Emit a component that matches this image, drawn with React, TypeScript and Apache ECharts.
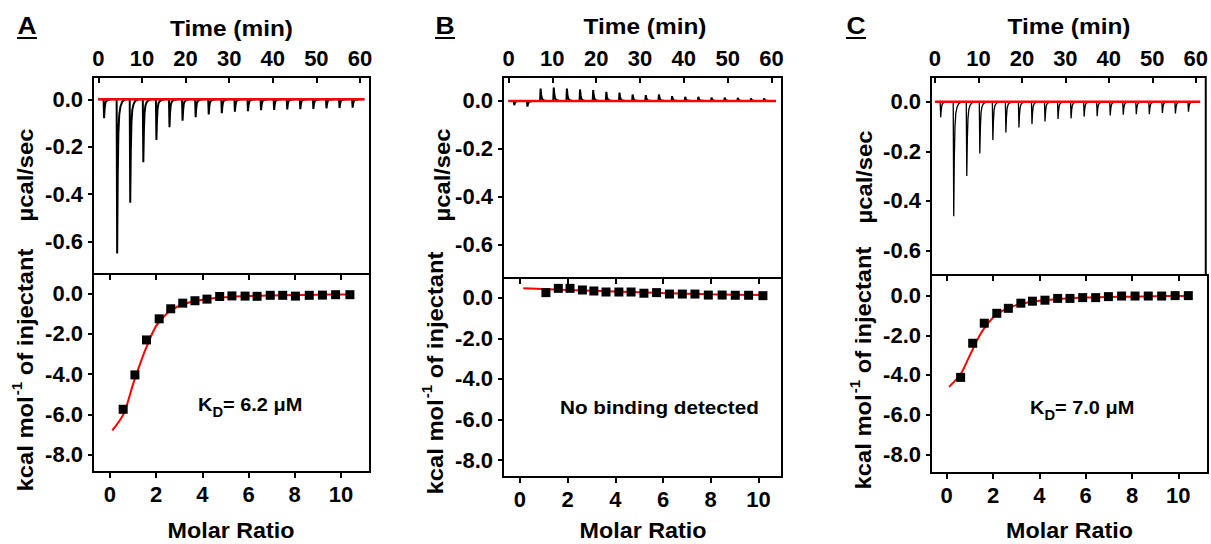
import React, { useEffect, useRef } from "react";
import * as echarts from "echarts";

// ---------- DATA ----------
const injectionTimes = [1.2, 4.2, 7.2, 10.2, 13.2, 16.2, 19.2, 22.2, 25.2, 28.2, 31.2, 34.2, 37.2, 40.2, 43.2, 46.2, 49.2, 52.2, 55.2, 58.2];
const peaksA = [-0.08, -0.65, -0.436, -0.266, -0.172, -0.118, -0.09, -0.076, -0.064, -0.059, -0.052, -0.05, -0.046, -0.045, -0.043, -0.042, -0.041, -0.038, -0.037, -0.035];
const peaksB = [-0.018, -0.024, 0.052, 0.056, 0.052, 0.048, 0.045, 0.038, 0.035, 0.027, 0.024, 0.027, 0.02, 0.017, 0.017, 0.014, 0.014, 0.013, 0.01, 0.01];
const peaksC = [-0.063, -0.463, -0.3, -0.209, -0.155, -0.124, -0.104, -0.09, -0.08, -0.07, -0.067, -0.06, -0.058, -0.055, -0.052, -0.05, -0.05, -0.045, -0.047, -0.04];
// normalized injection-peak shape (time offset in min, fraction of peak)
const pulseOffsets = [0, 0.12, 0.25, 0.4, 0.6, 0.9, 1.3, 2.0];
const pulseFractions = [0, 1, 0.5, 0.22, 0.1, 0.045, 0.015, 0];
const baselineRange = [0, 61];

const molarA = [0.57, 1.08, 1.58, 2.13, 2.63, 3.15, 3.68, 4.2, 4.75, 5.28, 5.85, 6.37, 6.94, 7.48, 8.03, 8.63, 9.2, 9.77, 10.39];
const heatA = [-5.75, -4.04, -2.3, -1.25, -0.75, -0.47, -0.35, -0.27, -0.14, -0.11, -0.12, -0.13, -0.08, -0.08, -0.12, -0.08, -0.07, -0.05, -0.05];
const fitXA = [0.1, 0.6, 1.0, 1.3, 1.6, 2.0, 2.5, 3.0, 3.5, 4.0, 5.0, 6.0, 7.0, 8.0, 9.0, 10.4];
const fitYA = [-6.8, -5.95, -4.5, -3.5, -2.6, -1.6, -0.95, -0.6, -0.42, -0.3, -0.18, -0.12, -0.09, -0.07, -0.05, -0.04];

const molarB = [1.09, 1.61, 2.1, 2.62, 3.1, 3.61, 4.15, 4.66, 5.2, 5.73, 6.27, 6.81, 7.34, 7.9, 8.48, 9.03, 9.59, 10.19];
const heatB = [0.25, 0.46, 0.46, 0.38, 0.33, 0.28, 0.28, 0.28, 0.22, 0.25, 0.18, 0.18, 0.18, 0.13, 0.13, 0.12, 0.12, 0.1];
const fitXB = [0.14, 2, 4, 6, 8, 10.2];
const fitYB = [0.46, 0.38, 0.3, 0.23, 0.17, 0.13];

const molarC = [0.6, 1.12, 1.62, 2.16, 2.66, 3.2, 3.7, 4.24, 4.79, 5.32, 5.87, 6.43, 6.98, 7.55, 8.13, 8.7, 9.28, 9.86, 10.43];
const heatC = [-4.12, -2.4, -1.39, -0.89, -0.64, -0.38, -0.28, -0.23, -0.14, -0.14, -0.1, -0.1, -0.05, -0.02, -0.02, -0.02, -0.02, 0, 0];
const fitXC = [0.1, 0.6, 1.0, 1.5, 2.0, 2.5, 3.0, 3.5, 4.0, 5.0, 6.0, 7.0, 8.0, 9.0, 10.4];
const fitYC = [-4.6, -3.95, -3.0, -1.85, -1.1, -0.7, -0.48, -0.35, -0.26, -0.16, -0.1, -0.07, -0.05, -0.03, -0.02];

const timeTicks = [0, 10, 20, 30, 40, 50, 60];
const powerTicks = [0, -0.2, -0.4, -0.6];
const ratioTicks = [0, 2, 4, 6, 8, 10];
const heatTicks = [0, -2, -4, -6, -8];

const panelLetters = ["A", "B", "C"];
const annotations = ["KD6.2", "none", "KD7.0"];

// ---------- LAYOUT ----------
const FONT = "'Liberation Sans', Arial, sans-serif";
const SX = 1.08;
const panels = [
  {
    top: { left: 93, top: 77, width: 277, height: 197 },
    bot: { left: 93, top: 274, width: 277, height: 198 },
    tx: [-1.22, 62.3], ty: [-0.737, 0.094], bx: [-0.736, 11.26], by: [-8.87, 0.98],
    peaks: peaksA, lw: 2, molar: molarA, heat: heatA, fx: fitXA, fy: fitYA,
    letter: [27, 26], time: [231.5, 28], molarT: [231, 530], ucal: [25, 175], kcal: [23, 370], ann: [198, 407],
  },
  {
    top: { left: 503, top: 77, width: 279, height: 201 },
    bot: { left: 503, top: 278, width: 279, height: 199 },
    tx: [-1.26, 62.4], ty: [-0.74, 0.1], bx: [-0.71, 10.99], by: [-8.83, 0.97],
    peaks: peaksB, lw: 2, molar: molarB, heat: heatB, fx: fitXB, fy: fitYB,
    letter: [445, 26], time: [645, 26], molarT: [643, 530], ucal: [442, 175], kcal: [433, 373], ann: [560, 407],
  },
  {
    top: { left: 931, top: 77, width: 277, height: 198 },
    bot: { left: 931, top: 275, width: 277, height: 198 },
    tx: [-0.91, 62.3], ty: [-0.7, 0.1], bx: [-0.68, 11.28], by: [-8.94, 1.04],
    peaks: peaksC, lw: 1.3, molar: molarC, heat: heatC, fx: fitXC, fy: fitYC,
    letter: [856, 26], time: [1069, 26], molarT: [1069.5, 530], ucal: [864, 177], kcal: [861, 368], ann: [1030, 410],
  },
];

function thermogram(peaks: number[]) {
  const pts: number[][] = [[baselineRange[0], 0]];
  injectionTimes.forEach((t, i) => {
    pulseOffsets.forEach((dt, k) => pts.push([t + dt, peaks[i] * pulseFractions[k]]));
  });
  pts.push([baselineRange[1], 0]);
  return pts;
}

const labelStyle = { color: "#000", fontSize: 22, fontWeight: "bold" as const, fontFamily: FONT };
const tickStyle = { color: "#000", width: 2 };
const noLine = { show: false, onZero: false };
const fmt1 = (v: number) => (Math.abs(v) < 1e-9 ? "0.0" : v.toFixed(1));
const fmt0 = (v: number) => String(Math.round(v));

function buildOption() {
  const grid: any[] = [];
  const xAxis: any[] = [];
  const yAxis: any[] = [];
  const series: any[] = [];
  const graphic: any[] = [];

  panels.forEach((p, i) => {
    const gTop = grid.length;
    grid.push({ ...p.top, show: true, borderColor: "#000", borderWidth: 2, backgroundColor: "rgba(0,0,0,0)" });
    const gBot = grid.length;
    grid.push({ ...p.bot, show: true, borderColor: "#000", borderWidth: 2, backgroundColor: "rgba(0,0,0,0)" });

    const xTop = xAxis.length;
    xAxis.push({
      type: "value", gridIndex: gTop, position: "top", min: p.tx[0], max: p.tx[1],
      axisLine: noLine, splitLine: { show: false },
      axisTick: { show: true, inside: true, length: 6, lineStyle: tickStyle, customValues: timeTicks },
      axisLabel: { ...labelStyle, margin: 8, customValues: timeTicks, formatter: fmt0 },
    });
    const xBot = xAxis.length;
    xAxis.push({
      type: "value", gridIndex: gBot, position: "bottom", min: p.bx[0], max: p.bx[1],
      axisLine: noLine, splitLine: { show: false },
      axisTick: { show: true, inside: false, length: 6, lineStyle: tickStyle, customValues: ratioTicks },
      axisLabel: { ...labelStyle, margin: 11, customValues: ratioTicks, formatter: fmt0 },
    });
    xAxis.push({
      type: "value", gridIndex: gBot, position: "top", min: p.bx[0], max: p.bx[1],
      axisLine: noLine, splitLine: { show: false },
      axisTick: { show: true, inside: true, length: 6, lineStyle: tickStyle, customValues: ratioTicks },
      axisLabel: { show: false },
    });
    const yTop = yAxis.length;
    yAxis.push({
      type: "value", gridIndex: gTop, position: "left", min: p.ty[0], max: p.ty[1],
      axisLine: noLine, splitLine: { show: false },
      axisTick: { show: true, inside: false, length: 5, lineStyle: tickStyle, customValues: powerTicks },
      axisLabel: { ...labelStyle, margin: 10, customValues: powerTicks, formatter: fmt1 },
    });
    const yBot = yAxis.length;
    yAxis.push({
      type: "value", gridIndex: gBot, position: "left", min: p.by[0], max: p.by[1],
      axisLine: noLine, splitLine: { show: false },
      axisTick: { show: true, inside: false, length: 5, lineStyle: tickStyle, customValues: heatTicks },
      axisLabel: { ...labelStyle, margin: 10, customValues: heatTicks, formatter: fmt1 },
    });

    series.push({
      type: "line", xAxisIndex: xTop, yAxisIndex: yTop, data: thermogram(p.peaks),
      showSymbol: false, symbol: "none", lineStyle: { color: "#000", width: p.lw }, z: 2,
    });
    series.push({
      type: "line", xAxisIndex: xTop, yAxisIndex: yTop, data: baselineRange.map((t) => [t, 0]),
      showSymbol: false, symbol: "none", lineStyle: { color: "#ff0000", width: 2.5 }, z: 3,
    });
    series.push({
      type: "line", xAxisIndex: xBot, yAxisIndex: yBot, data: p.fx.map((x, k) => [x, p.fy[k]]),
      showSymbol: false, symbol: "none", smooth: 0.3, lineStyle: { color: "#ff0000", width: 2 }, z: 3,
    });
    series.push({
      type: "scatter", xAxisIndex: xBot, yAxisIndex: yBot, data: p.molar.map((x, k) => [x, p.heat[k]]),
      symbol: "rect", symbolSize: 9, itemStyle: { color: "#000", opacity: 1 }, z: 4,
    });

    // texts
    graphic.push({
      type: "text", x: p.letter[0], y: p.letter[1], scaleX: 1.15,
      style: { text: panelLetters[i], fill: "#000", fontSize: 23, fontWeight: "bold", fontFamily: FONT, align: "center", verticalAlign: "middle" },
    });
    graphic.push({
      type: "line", shape: { x1: p.letter[0] - 10, y1: p.letter[1] + 12, x2: p.letter[0] + 10, y2: p.letter[1] + 12 },
      style: { stroke: "#000", lineWidth: 2 },
    });
    graphic.push({
      type: "text", x: p.time[0], y: p.time[1], scaleX: SX + 0.03,
      style: { text: "Time (min)", fill: "#000", fontSize: 22, fontWeight: "bold", fontFamily: FONT, align: "center", verticalAlign: "middle" },
    });
    graphic.push({
      type: "text", x: p.molarT[0], y: p.molarT[1], scaleX: SX - 0.02,
      style: { text: "Molar Ratio", fill: "#000", fontSize: 22, fontWeight: "bold", fontFamily: FONT, align: "center", verticalAlign: "middle" },
    });
    graphic.push({
      type: "text", x: p.ucal[0], y: p.ucal[1], rotation: Math.PI / 2, scaleX: SX,
      style: { text: "µcal/sec", fill: "#000", fontSize: 22, fontWeight: "bold", fontFamily: FONT, align: "center", verticalAlign: "middle" },
    });
    graphic.push({
      type: "text", x: p.kcal[0], y: p.kcal[1], rotation: Math.PI / 2, scaleX: SX,
      style: {
        text: "{n|kcal mol}{s|-1}{n| of injectant}", align: "center", verticalAlign: "middle",
        rich: {
          n: { fill: "#000", fontSize: 22, fontWeight: "bold", fontFamily: FONT, lineHeight: 26, verticalAlign: "bottom" },
          s: { fill: "#000", fontSize: 14, fontWeight: "bold", fontFamily: FONT, lineHeight: 26, verticalAlign: "top", padding: [0, 0, 0, 1] },
        },
      },
    });
    if (annotations[i] === "none") {
      graphic.push({
        type: "text", x: p.ann[0], y: p.ann[1], scaleX: 1.09,
        style: { text: "No binding detected", fill: "#000", fontSize: 19, fontWeight: "bold", fontFamily: FONT, align: "left", verticalAlign: "middle" },
      });
    } else {
      const val = annotations[i].slice(2);
      graphic.push({
        type: "text", x: p.ann[0], y: p.ann[1], scaleX: 1.05,
        style: {
          text: `{n|K}{d|D}{n|= ${val} μM}`, align: "left", verticalAlign: "middle",
          rich: {
            n: { fill: "#000", fontSize: 19, fontWeight: "bold", fontFamily: FONT, lineHeight: 24, verticalAlign: "top" },
            d: { fill: "#000", fontSize: 14, fontWeight: "bold", fontFamily: FONT, lineHeight: 24, verticalAlign: "bottom" },
          },
        },
      });
    }
  });

  return { animation: false, backgroundColor: "#fff", grid, xAxis, yAxis, series, graphic };
}

export default function App() {
  const ref = useRef<HTMLDivElement>(null);
  useEffect(() => {
    if (!ref.current) return;
    const chart = echarts.init(ref.current, undefined, { renderer: "svg" });
    chart.setOption(buildOption() as any);
    return () => chart.dispose();
  }, []);
  return <div ref={ref} style={{ position: "absolute", left: 0, top: 0, width: 1211, height: 544 }} />;
}
